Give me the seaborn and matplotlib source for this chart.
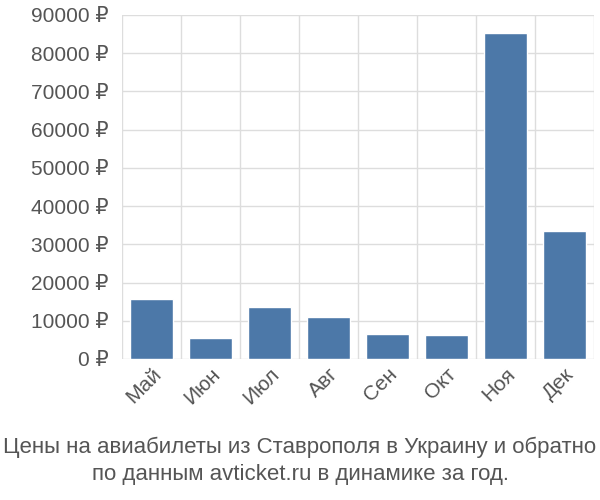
import matplotlib
matplotlib.use("Agg")
import matplotlib.pyplot as plt
import seaborn as sns
import numpy as np
from matplotlib.ticker import FixedLocator, FuncFormatter

months = ["Май", "Июн", "Июл", "Авг", "Сен", "Окт", "Ноя", "Дек"]
prices = [15700, 5500, 13600, 11000, 6500, 6400, 85200, 33400]

sns.set_style("white")
plt.rcParams["font.family"] = ["Liberation Sans", "DejaVu Sans"]

fig = plt.figure(figsize=(6, 5), dpi=100)
ax = fig.add_axes([0.203, 0.282, 0.787, 0.688])
sns.barplot(x=months, y=prices, color="#4c78a8", saturation=1, width=0.72, ax=ax, zorder=3)

ax.set_ylim(0, 90000)
ax.set_xlim(-0.5, len(months) - 0.5)
ax.set_yticks(np.arange(0, 90001, 10000))
ax.yaxis.set_major_formatter(FuncFormatter(lambda v, p: f"{int(v)} ₽"))
ax.xaxis.set_minor_locator(FixedLocator(np.arange(-0.5, len(months), 1)))
ax.grid(axis="y", color="#dddddd", lw=1, zorder=0)
ax.grid(axis="x", which="minor", color="#dddddd", lw=1, zorder=0)
ax.tick_params(axis="x", which="major", length=0, labelsize=15, colors="#555555", pad=4)
ax.tick_params(axis="x", which="minor", length=6, color="#dddddd")
ax.tick_params(axis="y", length=6, color="#dddddd", labelsize=15, colors="#555555")
for lab in ax.get_xticklabels():
    lab.set_rotation(45)
    lab.set_ha("right")
    lab.set_rotation_mode("anchor")
for s in ax.spines.values():
    s.set_visible(False)
ax.set_xlabel("")
ax.set_ylabel("")

fig.text(0.5, 0.078, "Цены на авиабилеты из Ставрополя в Украину и обратно\nпо данным avticket.ru в динамике за год.",
         ha="center", va="center", fontsize=16, color="#555555", linespacing=1.4)

fig.savefig("out.png", dpi=100)
